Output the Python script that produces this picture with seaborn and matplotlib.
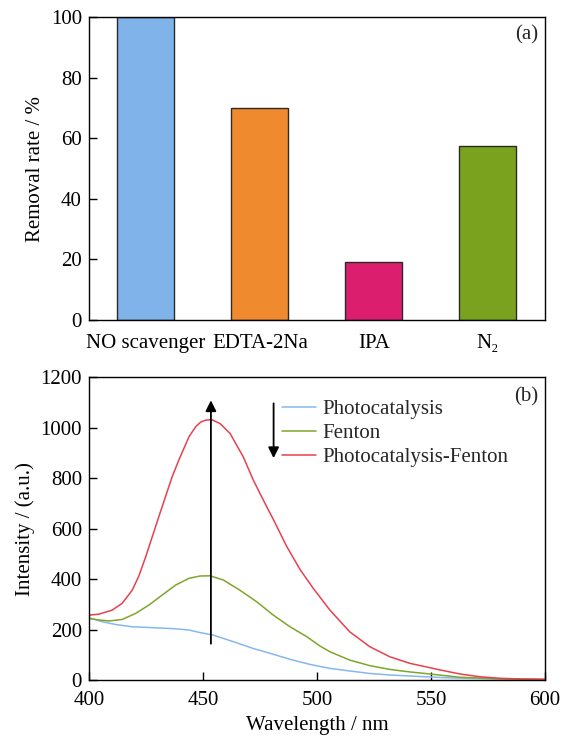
import matplotlib
matplotlib.use("Agg")
import matplotlib.pyplot as plt
import seaborn as sns
import pandas as pd

# ---- panel (a): removal rate with scavengers ----
scavengers = ["NO scavenger", "EDTA-2Na", "IPA", "N\u2082"]
removal_rate = [100, 70, 19.2, 57.5]
bar_colors = ["#7FB3EA", "#EF8A2E", "#DB1F6E", "#7BA21E"]

# ---- panel (b): fluorescence spectra ----
wl_photo = [400, 405.8, 411.7, 419, 429.2, 438, 443.9, 448.7, 454.5, 463.3, 472.1,
            480.9, 488.2, 496.9, 505.7, 514.4, 523.2, 532, 540.8, 549.5, 560, 575,
            590, 600]
int_photo = [247, 231, 220, 211, 207, 203, 198, 188, 178, 152, 125,
             102, 82, 62, 46, 36, 26, 20, 16, 12, 8, 5,
             3, 2]

wl_fenton = [400, 404.4, 408.8, 414.6, 420.5, 426.3, 432.2, 438, 443.9, 448.7, 453.1,
             459, 466.2, 473.6, 480.9, 488.2, 495.5, 501.3, 505.7, 514.4, 523.2, 532,
             540.8, 549.5, 562.7, 580, 600]
int_fenton = [244, 238, 234, 240, 264, 297, 337, 376, 403, 412, 413,
              396, 356, 310, 257, 211, 172, 135, 112, 79, 57, 42,
              32, 24, 11, 5, 2]

wl_pf = [400, 404.4, 410.2, 414.6, 419, 421.9, 424.9, 427.8, 430.7, 433.6, 436.5,
         439.5, 443.9, 446.8, 449, 451, 453.8, 457.5, 461.9, 467.7, 472.1, 478,
         480.9, 486.7, 492.6, 498.4, 505.7, 514.4, 523.2, 532, 540.8, 549.5, 554,
         562.7, 571.5, 580, 590, 600]
int_pf = [257, 261, 277, 304, 356, 412, 488, 568, 648, 727, 805,
          873, 964, 1003, 1022, 1029, 1032, 1016, 977, 884, 792, 686,
          636, 530, 438, 363, 277, 191, 132, 92, 66, 49, 40,
          24, 13, 7, 4, 3]

series_names = ["Photocatalysis", "Fenton", "Photocatalysis-Fenton"]
line_colors = ["#86B8F0", "#7FA52A", "#E8414E"]

sns.set_theme(style="white")
plt.rcParams["font.family"] = ["Liberation Serif", "DejaVu Serif"]
plt.rcParams["font.size"] = 15
plt.rcParams["axes.linewidth"] = 1.0
plt.rcParams["axes.edgecolor"] = "black"

fig = plt.figure(figsize=(5.70, 7.37), dpi=100)
ax1 = fig.add_axes([0.156, 0.5658, 0.800, 0.411])
ax2 = fig.add_axes([0.156, 0.0773, 0.800, 0.411])

# bar panel
bars = pd.DataFrame({"scavenger": scavengers, "rate": removal_rate})
sns.barplot(data=bars, x="scavenger", y="rate", hue="scavenger",
            palette=bar_colors, width=0.5, edgecolor="#2a2a2a", linewidth=1.0,
            legend=False, ax=ax1, saturation=1)
ax1.set_xlim(-0.5, 3.5)
ax1.set_ylim(0, 100)
ax1.set_yticks([0, 20, 40, 60, 80, 100])
ax1.set_xlabel("")
ax1.set_ylabel("Removal rate / %", fontsize=15)
ax1.text(0.985, 0.94, "(a)", transform=ax1.transAxes, ha="right", va="center", fontsize=15)

# spectra panel
spectra = pd.concat([
    pd.DataFrame({"wavelength": wl_photo, "intensity": int_photo, "sample": series_names[0]}),
    pd.DataFrame({"wavelength": wl_fenton, "intensity": int_fenton, "sample": series_names[1]}),
    pd.DataFrame({"wavelength": wl_pf, "intensity": int_pf, "sample": series_names[2]}),
], ignore_index=True)
sns.lineplot(data=spectra, x="wavelength", y="intensity", hue="sample",
             hue_order=series_names, palette=line_colors, linewidth=1.1,
             estimator=None, sort=True, ax=ax2)
ax2.set_xlim(400, 600)
ax2.set_ylim(0, 1200)
ax2.set_xticks([400, 450, 500, 550, 600])
ax2.set_yticks([0, 200, 400, 600, 800, 1000, 1200])
ax2.set_xlabel("Wavelength / nm", fontsize=15)
ax2.set_ylabel("Intensity / (a.u.)", fontsize=15)
ax2.text(0.985, 0.934, "(b)", transform=ax2.transAxes, ha="right", va="center", fontsize=15)

leg = ax2.legend(loc="upper left", bbox_to_anchor=(0.4226, 0.925), frameon=False,
                 handlelength=1.65, handletextpad=0.3, labelspacing=0.2,
                 borderpad=0, borderaxespad=0, fontsize=15)

# trend arrows
up_x, up_from, up_to = 453.5, 144, 1108
down_x, down_from, down_to = 481, 1096, 879
arrow_kw = dict(arrowstyle="-|>", color="black", lw=1.3, mutation_scale=16,
                shrinkA=0, shrinkB=0)
ax2.annotate("", xy=(up_x, up_to), xytext=(up_x, up_from), arrowprops=arrow_kw)
ax2.annotate("", xy=(down_x, down_to), xytext=(down_x, down_from), arrowprops=arrow_kw)

for ax in (ax1, ax2):
    for s in ax.spines.values():
        s.set_visible(True)
        s.set_color("black")
        s.set_linewidth(1.0)
    ax.tick_params(axis="both", direction="in", length=6, width=1.0, colors="black",
                   labelsize=15, bottom=True, left=True, top=False, right=False, pad=5)
    ax.yaxis.label.set_color("black")
    ax.xaxis.label.set_color("black")
ax1.tick_params(axis="x", pad=10)
ax2.tick_params(axis="x", pad=8)

fig.savefig("out.png", dpi=100)
